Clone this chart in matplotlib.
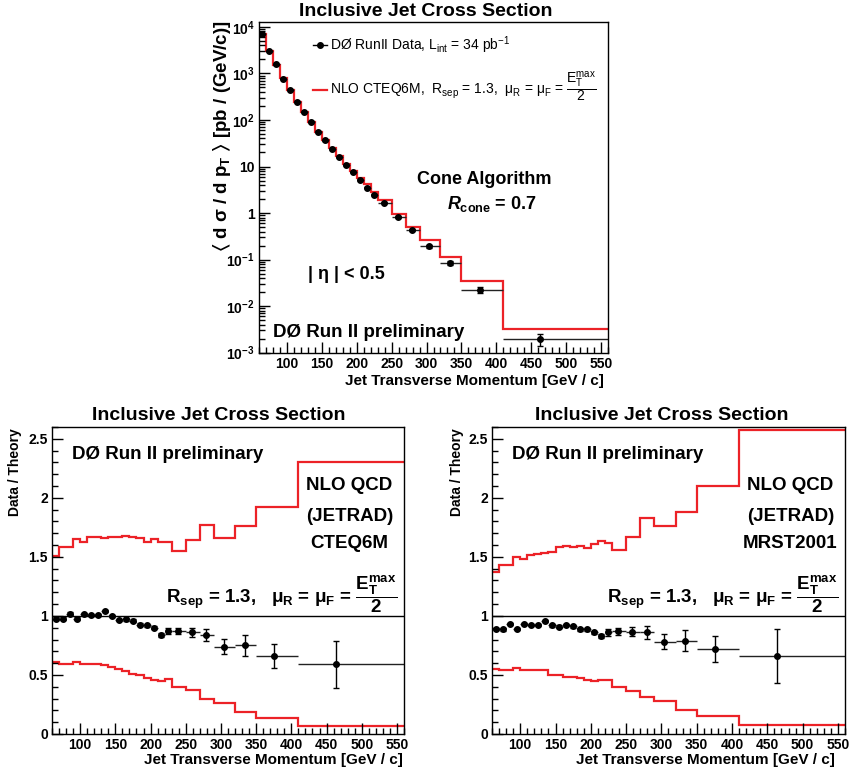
import matplotlib

matplotlib.use("Agg")
import matplotlib.pyplot as plt
import numpy as np
from matplotlib.lines import Line2D
from matplotlib.ticker import FuncFormatter, LogLocator, MultipleLocator, NullFormatter

plt.rcParams["font.family"] = ["Liberation Sans", "DejaVu Sans"]
plt.rcParams["font.weight"] = "bold"
plt.rcParams["mathtext.fontset"] = "custom"
plt.rcParams["mathtext.rm"] = "Liberation Sans"
plt.rcParams["mathtext.it"] = "Liberation Sans:bold:italic"
plt.rcParams["mathtext.bf"] = "Liberation Sans:bold"
plt.rcParams["mathtext.default"] = "regular"

# bins em pT (GeV/c)
BIN_EDGES = [60, 70, 80, 90, 100, 110, 120, 130, 140, 150, 160, 170, 180, 190,
             200, 210, 220, 230, 250, 270, 290, 320, 350, 410, 560]
PT_POINTS = [65, 75, 85, 95, 105, 115, 125, 135, 145, 155, 165, 175, 185, 195,
             205, 215, 225, 239, 259, 279, 304, 334, 376, 463]

# secao de choque medida e NLO CTEQ6M (pb / GeV/c)
XSEC_DATA = [6970, 3040, 1570, 774, 440, 248, 148, 92, 56, 36.4, 24.1, 15.9, 10.7,
             7.55, 5.08, 3.49, 2.50, 1.66, 0.81, 0.427, 0.193, 0.0847, 0.0225, 0.00196]
XSEC_ERR = [70, 30, 16, 8, 4.4, 2.5, 1.5, 0.9, 0.6, 0.4, 0.25, 0.17, 0.12,
            0.09, 0.06, 0.05, 0.085, 0.057, 0.033, 0.025, 0.016, 0.010, 0.0034, 0.0006]
XSEC_CTEQ6M = [7130, 3110, 1540, 792, 434, 246, 147, 88.4, 56, 37.8, 24.8, 16.6, 11.6,
               8.2, 5.64, 4.15, 2.87, 1.91, 0.94, 0.508, 0.261, 0.113, 0.034, 0.00327]

# razao dados / teoria
RATIO_CTEQ = [0.977, 0.977, 1.02, 0.977, 1.014, 1.01, 1.01, 1.04, 1.0, 0.964, 0.97, 0.96,
              0.925, 0.92, 0.90, 0.84, 0.87, 0.87, 0.86, 0.84, 0.74, 0.75, 0.66, 0.59]
RATIO_CTEQ_ERR = [0.01, 0.01, 0.01, 0.01, 0.01, 0.01, 0.01, 0.01, 0.01, 0.01, 0.01, 0.012,
                  0.012, 0.013, 0.014, 0.015, 0.027, 0.027, 0.035, 0.049, 0.063, 0.09, 0.10, 0.20]
CTEQ_UP = [1.51, 1.58, 1.58, 1.65, 1.63, 1.67, 1.67, 1.66, 1.67, 1.67, 1.68, 1.67,
           1.66, 1.63, 1.65, 1.63, 1.63, 1.55, 1.64, 1.77, 1.66, 1.76, 1.92, 2.30]
CTEQ_DOWN = [0.61, 0.59, 0.59, 0.61, 0.59, 0.595, 0.59, 0.585, 0.57, 0.55, 0.53, 0.51,
             0.50, 0.475, 0.46, 0.45, 0.465, 0.40, 0.37, 0.30, 0.26, 0.19, 0.135, 0.065]

RATIO_MRST = [0.888, 0.886, 0.93, 0.888, 0.93, 0.925, 0.925, 0.958, 0.92, 0.91, 0.925, 0.913,
              0.885, 0.886, 0.86, 0.83, 0.86, 0.87, 0.865, 0.86, 0.78, 0.79, 0.72, 0.66]
RATIO_MRST_ERR = [0.01, 0.01, 0.01, 0.01, 0.01, 0.01, 0.01, 0.01, 0.01, 0.01, 0.01, 0.012,
                  0.012, 0.013, 0.014, 0.015, 0.03, 0.03, 0.038, 0.055, 0.063, 0.09, 0.11, 0.23]
MRST_UP = [1.37, 1.43, 1.43, 1.50, 1.485, 1.52, 1.525, 1.53, 1.54, 1.585, 1.595, 1.585,
           1.59, 1.575, 1.61, 1.635, 1.615, 1.56, 1.665, 1.83, 1.765, 1.88, 2.10, 2.575]
MRST_DOWN = [0.55, 0.54, 0.54, 0.555, 0.545, 0.545, 0.545, 0.545, 0.50, 0.50, 0.485, 0.48,
             0.47, 0.455, 0.45, 0.455, 0.46, 0.40, 0.36, 0.315, 0.28, 0.205, 0.15, 0.075]

VERMELHO = "#ec2227"
TITULO = "Inclusive Jet Cross Section"
XLABEL = "Jet Transverse Momentum [GeV / c]"
PRELIM = "DØ Run II preliminary"
ESCALA = r"R$_{sep}$ = 1.3,   μ$_R$ = μ$_F$ = $\dfrac{E_T^{max}}{2}$"


def estilo_eixo(ax):
    for spine in ax.spines.values():
        spine.set_linewidth(1.0)
    ax.tick_params(which="both", direction="in", top=False, right=False,
                   labelsize=10, width=1, pad=3)
    ax.tick_params(which="major", length=8)
    ax.tick_params(which="minor", length=4)
    ax.set_xlim(60, 560)
    ax.xaxis.set_major_locator(MultipleLocator(50))
    ax.xaxis.set_minor_locator(MultipleLocator(10))


def desenhar_pontos(ax, y, yerr):
    pt = np.array(PT_POINTS)
    edges = np.array(BIN_EDGES)
    xerr = [pt - edges[:-1], edges[1:] - pt]
    ax.errorbar(pt, y, xerr=xerr, fmt="none", ecolor="#222222", elinewidth=1, capsize=0)
    ax.errorbar(pt, y, yerr=yerr, fmt="o", ms=4, color="black", ecolor="black",
                elinewidth=1, capsize=2, zorder=5)


def formato_log(v, pos):
    n = int(round(np.log10(v)))
    if n == 0:
        return "1"
    if n == 1:
        return "10"
    return r"$10^{%d}$" % n


def painel_principal(fig):
    ax = fig.add_axes([0.3047, 0.5422, 0.4106, 0.4293])
    estilo_eixo(ax)
    ax.set_yscale("log")
    ax.set_ylim(9.8e-4, 1.28e4)
    ax.yaxis.set_major_locator(LogLocator(base=10, numticks=20))
    ax.yaxis.set_minor_locator(LogLocator(base=10, subs=np.arange(2, 10), numticks=20))
    ax.yaxis.set_major_formatter(FuncFormatter(formato_log))
    ax.yaxis.set_minor_formatter(NullFormatter())

    ax.stairs(XSEC_CTEQ6M, BIN_EDGES, baseline=None, color=VERMELHO, lw=1.6)
    desenhar_pontos(ax, XSEC_DATA, XSEC_ERR)

    handles = [Line2D([], [], color="black", marker="o", ms=4, lw=1),
               Line2D([], [], color=VERMELHO, lw=1.6)]
    labels = [r"DØ RunII Data, L$_{int}$ = 34 pb$^{-1}$",
              r"NLO CTEQ6M,  R$_{sep}$ = 1.3,  μ$_R$ = μ$_F$ = $\dfrac{E_T^{max}}{2}$"]
    ax.legend(handles, labels, loc="upper left", bbox_to_anchor=(0.155, 0.962),
              frameon=False, prop={"weight": "normal", "size": 10}, handlelength=1.0,
              handletextpad=0.25, labelspacing=1.0, borderpad=0, borderaxespad=0)

    ax.text(0.645, 0.523, "Cone Algorithm", transform=ax.transAxes, ha="center",
            va="center", fontsize=13)
    ax.text(0.668, 0.450, r"$\mathit{R}_{cone}$ = 0.7", transform=ax.transAxes,
            ha="center", va="center", fontsize=13)
    ax.text(0.140, 0.236, "| η | < 0.5", transform=ax.transAxes, ha="left",
            va="center", fontsize=13)
    ax.text(0.040, 0.062, PRELIM, transform=ax.transAxes, ha="left", va="center",
            fontsize=13.5)

    fig.text(426 / 850, 1 - 12 / 771, TITULO, ha="center", va="center", fontsize=14)
    fig.text(604 / 850, 1 - 381 / 771, XLABEL, ha="right", va="center", fontsize=11)
    fig.text(222 / 850, 1 - 20 / 771, r"$\langle$ d σ / d p$_T$ $\rangle$ [pb / (GeV/c)]",
             rotation=90, ha="center", va="top", fontsize=13.5)


def painel_razao(fig, rect, ratio, ratio_err, up, down, pdf, titulo_x, xlabel_x, ylabel_x):
    ax = fig.add_axes(rect)
    estilo_eixo(ax)
    ax.set_ylim(0, 2.6)
    ax.yaxis.set_major_locator(MultipleLocator(0.5))
    ax.yaxis.set_minor_locator(MultipleLocator(0.1))
    ax.yaxis.set_major_formatter(FuncFormatter(lambda v, pos: "%g" % v))

    ax.axhline(1, color="black", lw=1)
    ax.stairs(up, BIN_EDGES, baseline=None, color=VERMELHO, lw=1.6)
    ax.stairs(down, BIN_EDGES, baseline=None, color=VERMELHO, lw=1.6)
    desenhar_pontos(ax, ratio, ratio_err)

    ax.text(0.058, 0.909, PRELIM, transform=ax.transAxes, ha="left", va="center",
            fontsize=13.5)
    for texto, y in [("NLO QCD", 0.808), ("(JETRAD)", 0.708), (pdf, 0.619)]:
        ax.text(0.845, y, texto, transform=ax.transAxes, ha="center", va="center",
                fontsize=13.5)
    ax.text(0.98, 0.455, ESCALA, transform=ax.transAxes, ha="right", va="center",
            fontsize=13.5)

    fig.text(titulo_x / 850, 1 - 415 / 771, TITULO, ha="center", va="center", fontsize=14)
    fig.text(xlabel_x / 850, 1 - 760 / 771, XLABEL, ha="right", va="center", fontsize=11)
    fig.text(ylabel_x / 850, 1 - 428 / 771, "Data / Theory", rotation=90, ha="center",
             va="top", fontsize=10)
    return ax


def main():
    fig = plt.figure(figsize=(8.5, 7.71), dpi=100)
    painel_principal(fig)
    painel_razao(fig, [0.0612, 0.0480, 0.4141, 0.3982], RATIO_CTEQ, RATIO_CTEQ_ERR,
                 CTEQ_UP, CTEQ_DOWN, "CTEQ6M", 219, 403, 15)
    painel_razao(fig, [0.5788, 0.0480, 0.4153, 0.3982], RATIO_MRST, RATIO_MRST_ERR,
                 MRST_UP, MRST_DOWN, "MRST2001", 662, 835, 457)
    fig.savefig("out.png", dpi=100)


if __name__ == "__main__":
    main()
